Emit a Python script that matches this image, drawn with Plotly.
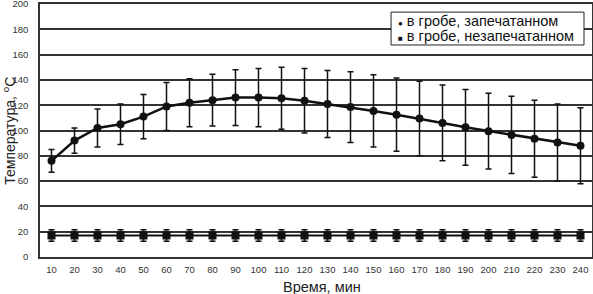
import plotly.graph_objects as go

time_min = [10, 20, 30, 40, 50, 60, 70, 80, 90, 100, 110, 120,
            130, 140, 150, 160, 170, 180, 190, 200, 210, 220, 230, 240]
sealed_temp = [76, 92, 102, 105, 111, 119, 122, 124, 126, 126, 125.5, 123.5,
               121, 118.5, 115.5, 112.5, 109.5, 106, 102.5, 99.5, 96.5, 93.5, 90.5, 88]
sealed_err = [9, 10, 15, 16, 17.5, 19, 19, 20.5, 22, 23, 24.5, 25.5,
              26.5, 28, 28.5, 29, 29.5, 30, 30, 30, 30.5, 30.5, 30.5, 30]
unsealed_temp = [17] * 24
unsealed_err = [4.5] * 24
y_ticks = [0, 20, 40, 60, 80, 100, 120, 140, 160, 180, 200]
series_names = ["в гробе, запечатанном", "в гробе, незапечатанном"]

FONT = "Arial, Liberation Sans, sans-serif"

fig = go.Figure()
fig.add_trace(go.Scatter(
    x=time_min, y=unsealed_temp, mode="lines+markers", name=series_names[1],
    line=dict(color="#111", width=2),
    marker=dict(symbol="square", size=8, color="#111"),
    error_y=dict(type="data", array=unsealed_err, color="#111", thickness=1.5, width=3),
    showlegend=False,
))
fig.add_trace(go.Scatter(
    x=time_min, y=sealed_temp, mode="lines+markers", name=series_names[0],
    line=dict(color="#111", width=2.5),
    marker=dict(symbol="circle", size=8, color="#111"),
    error_y=dict(type="data", array=sealed_err, color="#111", thickness=1.5, width=3),
    showlegend=False,
))

bullets = ["●", "■"]
legend_rows_y = [0.931, 0.874]
legend_annotations = [
    dict(text="<span style='font-size:8px'>" + b + "</span> " + name,
         xref="paper", yref="paper", x=0.645, xanchor="left",
         y=ly, yanchor="middle", showarrow=False,
         font=dict(size=14.5, family=FONT, color="#111"))
    for b, name, ly in zip(bullets, series_names, legend_rows_y)
]

fig.update_layout(
    width=593, height=294,
    margin=dict(l=40, r=1, t=4, b=37, autoexpand=False),
    paper_bgcolor="white", plot_bgcolor="white",
    font=dict(family=FONT, color="#222"),
    showlegend=False,
    shapes=[dict(type="rect", xref="paper", yref="paper",
                 x0=0.636, x1=0.9855, y0=0.838, y1=0.968,
                 line=dict(color="#222", width=1), fillcolor="white", layer="above")],
    annotations=legend_annotations + [
        dict(text="Время, мин", xref="paper", yref="paper",
             x=0.51, xanchor="center", y=-0.078, yanchor="top",
             showarrow=False, font=dict(size=14.5, family=FONT, color="#222")),
        dict(text="Температура, <sup>o</sup>C", xref="paper", yref="paper",
             x=-0.0575, xanchor="center", y=0.5, yanchor="middle", textangle=-90,
             showarrow=False, font=dict(size=14, family=FONT, color="#222")),
    ],
)
fig.update_xaxes(
    range=[5, 245], tickvals=time_min, ticktext=[str(t) for t in time_min],
    showgrid=False, zeroline=False, automargin=False,
    showline=True, linecolor="#333", linewidth=1.5, mirror=True,
    ticks="", ticklabelstandoff=3, ticklabeloverflow="allow",
    tickfont=dict(size=9.5, color="#333", family=FONT),
)
fig.update_yaxes(
    range=[0, 200], tickvals=y_ticks,
    showgrid=True, gridcolor="#333", gridwidth=1.5, zeroline=False, automargin=False,
    showline=True, linecolor="#333", linewidth=1.5, mirror=True,
    ticks="", ticklabelstandoff=8, ticklabeloverflow="allow",
    tickfont=dict(size=9.5, color="#333", family=FONT),
)
fig.write_html("out.html", config={"displayModeBar": False},
               post_script="document.body.style.margin='0';")
